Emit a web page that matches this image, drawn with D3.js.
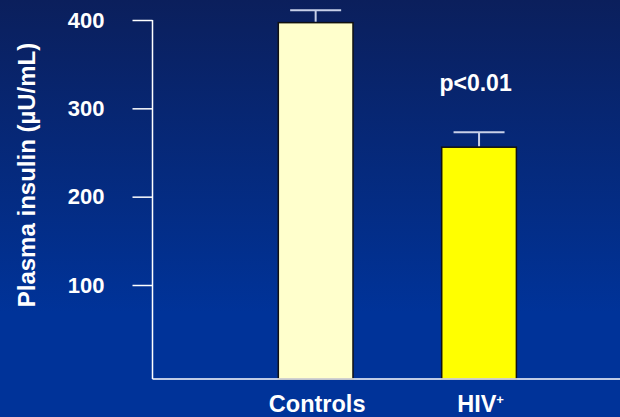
<!DOCTYPE html>
<html>
<head>
<meta charset="utf-8">
<script src="https://cdn.jsdelivr.net/npm/d3@7"></script>
<style>
html,body{margin:0;padding:0;overflow:hidden;background:#003399;}
svg{display:block;}
text{font-family:"Liberation Sans",Arial,sans-serif;font-weight:bold;fill:#fff;}
</style>
</head>
<body>
<svg id="chart" width="620" height="417"></svg>
<script>
const categories = ["Controls", "HIV+"];
const values = [397, 256];
const errors = [14, 17];
const barColors = ["#FFFFCC", "#FFFF00"];
const yTicks = [100, 200, 300, 400];
const annotation = "p<0.01";

const W = 620, H = 417;
const svg = d3.select("#chart");

const defs = svg.append("defs");
const grad = defs.append("linearGradient").attr("id", "bg").attr("x1", 0).attr("y1", 0).attr("x2", 0).attr("y2", 1);
grad.append("stop").attr("offset", "0%").attr("stop-color", "#0b1f5c");
grad.append("stop").attr("offset", "75%").attr("stop-color", "#003399");
grad.append("stop").attr("offset", "100%").attr("stop-color", "#003399");
svg.append("rect").attr("width", W).attr("height", H).attr("fill", "url(#bg)");

const axisX = 152.5, baseY = 379;
const y = d3.scaleLinear().domain([100, 400]).range([285, 20]);
const x = d3.scaleBand().domain(categories).range([axisX, 642.2])
  .paddingInner(0.543).paddingOuter(0.77);

// bars
svg.selectAll("rect.bar").data(categories).join("rect")
  .attr("class", "bar")
  .attr("x", d => x(d))
  .attr("width", x.bandwidth())
  .attr("y", (d, i) => y(values[i]))
  .attr("height", (d, i) => baseY - y(values[i]))
  .attr("fill", (d, i) => barColors[i])
  .attr("stroke", "#111")
  .attr("stroke-width", 1.5);

// error bars
const eb = svg.selectAll("g.err").data(categories).join("g").attr("class", "err");
eb.append("line")
  .attr("x1", d => x(d) + x.bandwidth() / 2).attr("x2", d => x(d) + x.bandwidth() / 2)
  .attr("y1", (d, i) => y(values[i]) - 1).attr("y2", (d, i) => y(values[i] + errors[i]))
  .attr("stroke", "#c8d0e8").attr("stroke-width", 2);
eb.append("line")
  .attr("x1", d => x(d) + x.bandwidth() / 2 - 25.5).attr("x2", d => x(d) + x.bandwidth() / 2 + 25.5)
  .attr("y1", (d, i) => y(values[i] + errors[i])).attr("y2", (d, i) => y(values[i] + errors[i]))
  .attr("stroke", "#c8d0e8").attr("stroke-width", 2);

// y axis
const yAxis = d3.axisLeft(y).tickValues(yTicks).tickSize(20).tickPadding(28).tickFormat(d3.format("d"));
const gy = svg.append("g").attr("transform", `translate(${axisX},0)`).call(yAxis);
gy.select(".domain").remove();
gy.selectAll(".tick line").attr("stroke", "#fff").attr("stroke-width", 1.5);
gy.selectAll(".tick text").attr("font-size", 22).attr("fill", "#fff")
  .attr("font-family", "Liberation Sans, Arial, sans-serif").attr("font-weight", "bold");
svg.append("line").attr("x1", axisX).attr("x2", axisX).attr("y1", y(400)).attr("y2", baseY)
  .attr("stroke", "#fff").attr("stroke-width", 1.5);

// x axis
svg.append("line").attr("x1", axisX).attr("x2", W).attr("y1", baseY).attr("y2", baseY)
  .attr("stroke", "#fff").attr("stroke-width", 1.5);

// category labels
const labels = svg.selectAll("text.cat").data(categories).join("text")
  .attr("class", "cat")
  .attr("x", d => x(d) + x.bandwidth() / 2 + 1.5)
  .attr("y", 412)
  .attr("text-anchor", "middle")
  .attr("font-size", 23.5);
labels.each(function(d) {
  const t = d3.select(this);
  if (d.endsWith("+")) {
    t.append("tspan").text(d.slice(0, -1));
    t.append("tspan").text("+").attr("font-size", 13).attr("dy", -8);
  } else {
    t.text(d);
  }
});

// annotation
svg.append("text").attr("x", x("HIV+") + x.bandwidth() / 2 - 3.5).attr("y", 90.5)
  .attr("text-anchor", "middle").attr("font-size", 23).text(annotation);

// y title
svg.append("text").attr("transform", "translate(35,175) rotate(-90)")
  .attr("text-anchor", "middle").attr("font-size", 24).text("Plasma insulin (µU/mL)");
</script>
</body>
</html>
